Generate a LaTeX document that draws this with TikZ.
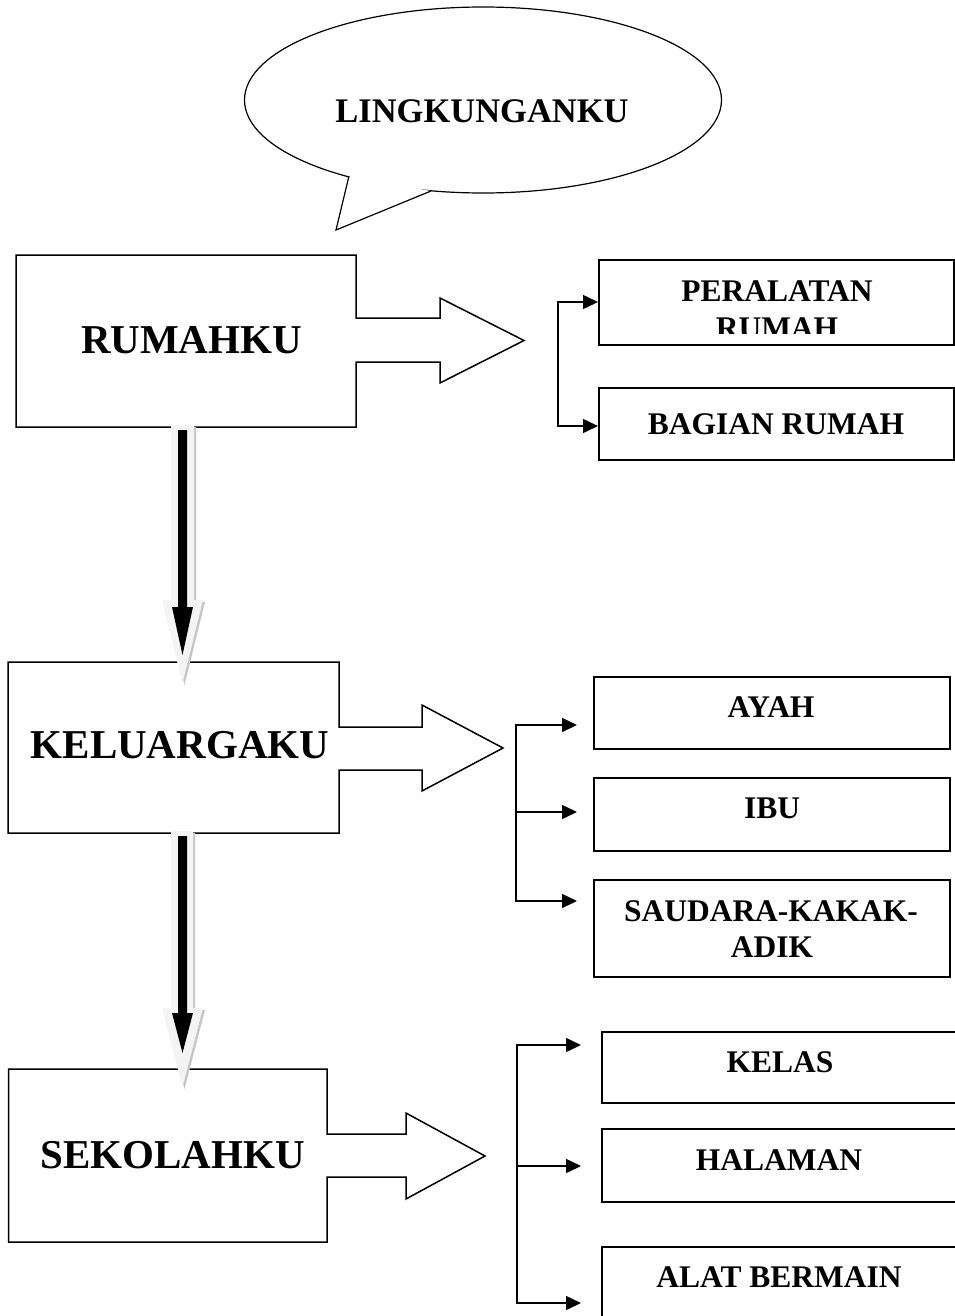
\documentclass[tikz,border=0pt]{standalone}
\usepackage{fontspec}
\setmainfont{Liberation Serif}
\usetikzlibrary{arrows.meta,shapes.geometric,calc}
\begin{document}
\begin{tikzpicture}[x=1pt,y=-1pt,
  shp/.style={draw=black,line width=1.5pt,fill=white,line join=miter},
  rbox/.style={draw=black,line width=1.7pt,fill=white,inner sep=0pt,anchor=north west},
  bigtxt/.style={font=\fontsize{41}{41}\selectfont\bfseries,inner sep=0pt,anchor=base},
  smtxt/.style={font=\fontsize{31.5}{37}\selectfont\bfseries,inner sep=0pt,anchor=base},
  conn/.style={line width=1.5pt,line join=miter,-{Triangle[length=15pt,width=14pt]}},
  brk/.style={line width=1.5pt},
  garrow/.style={fill=gray!9,draw=none},
  sarrow/.style={fill=gray!45,draw=none},
  barrow/.style={fill=black,draw=none},
]
\useasboundingbox[fill=white] (0,0) rectangle (954,1316);

% ---------- callout ----------
\node[draw,line width=1.2pt,ellipse,minimum width=477pt,minimum height=186pt,inner sep=0pt,fill=white] (callout) at (483,100) {};
\fill[white] (349,176) -- (336,230) -- (431,191) -- cycle;
\coordinate (tailA) at (349,176);
\coordinate (tailTip) at (336,230);
\coordinate (tailB) at (431,191);
\draw[line width=1.2pt,line join=miter] (tailA) -- (tailTip) -- (tailB);
\node[font=\fontsize{34.5}{34.5}\selectfont\bfseries,inner sep=0pt,anchor=base] (lingk) at (482,123) {LINGKUNGANKU};

% ---------- main arrow-callout boxes ----------
\draw[shp] (16,255) -- (356,255) -- (356,318) -- (440,318) -- (440,298) -- (524,340.5) -- (440,383) -- (440,362) -- (356,362) -- (356,427) -- (16,427) -- cycle;
\node[bigtxt] (rumah) at (191.5,353) {RUMAHKU};

\draw[shp] (8,662) -- (339,662) -- (339,727) -- (422,727) -- (422,705) -- (503,748) -- (422,791) -- (422,770) -- (339,770) -- (339,833) -- (8,833) -- cycle;
\node[bigtxt] (kel) at (180,758) {KELUARGAKU};

\draw[shp] (8.5,1069) -- (327,1069) -- (327,1134) -- (406,1134) -- (406,1113) -- (485,1156) -- (406,1199) -- (406,1177) -- (327,1177) -- (327,1242) -- (8.5,1242) -- cycle;
\node[bigtxt] (sek) at (172.5,1168) {SEKOLAHKU};

% ---------- right boxes ----------
\node[rbox,minimum width=355pt,minimum height=85pt] (peral) at (598,259) {};
\node[rbox,minimum width=355pt,minimum height=72pt] (bagian) at (598,387) {};
\node[rbox,minimum width=356pt,minimum height=72pt] (ayah) at (593,676) {};
\node[rbox,minimum width=356pt,minimum height=73pt] (ibu) at (593,777) {};
\node[rbox,minimum width=356pt,minimum height=97pt] (saudara) at (593,879) {};
\node[rbox,minimum width=400pt,minimum height=71pt] (kelas) at (601,1031) {};
\node[rbox,minimum width=400pt,minimum height=73pt] (halaman) at (601,1128) {};
\node[rbox,minimum width=400pt,minimum height=100pt] (alat) at (601,1246) {};

\begin{scope}
  \clip (599,260) rectangle (952,333);
  \node[smtxt] (peral1) at (777,301) {PERALATAN};
  \node[smtxt] (peral2) at (777,338) {RUMAH};
\end{scope}
\node[smtxt] (bagiantxt) at (776,434) {BAGIAN RUMAH};
\node[smtxt] (ayahtxt) at (771,717) {AYAH};
\node[smtxt] (ibutxt) at (772,818) {IBU};
\node[smtxt] (saud1) at (771,921) {SAUDARA-KAKAK-};
\node[smtxt] (saud2) at (772,957) {ADIK};
\node[smtxt] (kelastxt) at (780,1072) {KELAS};
\node[smtxt] (halamantxt) at (779,1170) {HALAMAN};
\node[smtxt] (alattxt) at (779,1287) {ALAT BERMAIN};

% ---------- bracket connectors ----------
\coordinate (r1) at (558,302);
\coordinate (r2) at (558,426);
\draw[conn] (r2) -- (r1) -- (r1 -| peral.west);
\draw[conn] (r1) -- (r2) -- (r2 -| bagian.west);

\coordinate (k1) at (516,725);
\coordinate (k2) at (516,812);
\coordinate (k3) at (516,901);
\draw[conn] (k3) -- (k1) -- ($(k1 -| ayah.west)+(-16,0)$);
\draw[conn] (k2) -- ($(k2 -| ibu.west)+(-16,0)$);
\draw[conn] (k1) -- (k3) -- ($(k3 -| saudara.west)+(-16,0)$);

\coordinate (s1) at (517,1045);
\coordinate (s2) at (517,1166);
\coordinate (s3) at (517,1303);
\draw[conn] (s3) -- (s1) -- ($(s1 -| kelas.west)+(-20,0)$);
\draw[conn] (s2) -- ($(s2 -| halaman.west)+(-20,0)$);
\draw[conn] (s1) -- (s3) -- ($(s3 -| alat.west)+(-20,0)$);

% ---------- down arrows ----------
\begin{scope}[shift={(2,2)}]
  \fill[sarrow] (171,425) -- (194,425) -- (194,600) -- (203,600) -- (182.5,683) -- (162,600) -- (171,600) -- cycle;
  \fill[sarrow] (171,831) -- (193,831) -- (193,1008) -- (203,1008) -- (182.5,1087) -- (162,1008) -- (171,1008) -- cycle;
\end{scope}
\fill[garrow] (171,425) -- (194,425) -- (194,600) -- (203,600) -- (182.5,683) -- (162,600) -- (171,600) -- cycle;
\fill[barrow] (178,430) -- (187,430) -- (187,607) -- (193,607) -- (182.5,655) -- (172,607) -- (178,607) -- cycle;

\fill[garrow] (171,831) -- (193,831) -- (193,1008) -- (203,1008) -- (182.5,1087) -- (162,1008) -- (171,1008) -- cycle;
\fill[barrow] (178,836) -- (187,836) -- (187,1013) -- (193,1013) -- (182.5,1053) -- (172,1013) -- (178,1013) -- cycle;
\end{tikzpicture}
\end{document}
